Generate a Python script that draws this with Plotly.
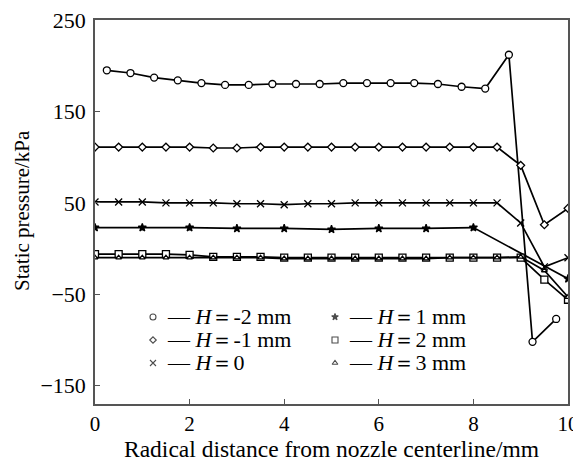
import plotly.graph_objects as go

# ---------------- data ----------------
x_m2 = [0.25, 0.75, 1.25, 1.75, 2.25, 2.75, 3.25, 3.75, 4.25, 4.75, 5.25, 5.75, 6.25, 6.75,
        7.25, 7.75, 8.25, 8.75, 9.25, 9.75]
y_m2 = [195, 192, 187, 184, 181, 179, 179, 180, 180, 180, 181, 181, 181, 181,
        180, 177, 175, 212, -102, -77]

x_half = [0, 0.5, 1, 1.5, 2, 2.5, 3, 3.5, 4, 4.5, 5, 5.5, 6, 6.5, 7, 7.5, 8, 8.5, 9, 9.5, 10]
y_m1 = [111, 111, 111, 111, 111, 110, 110, 111, 111, 111, 111, 111, 111, 111,
        111, 111, 111, 111, 91, 26, 44]
y_0 = [51, 51, 51, 50, 50, 50, 49, 49, 48, 49, 49, 50, 50, 50,
       50, 50, 50, 50, 28, -20, -10]

x_p1 = [0, 1, 2, 3, 4, 5, 6, 7, 8, 10]
y_p1 = [23, 23, 23, 22, 22, 21, 22, 22, 23, -33]

x_p2 = x_half
y_p2 = [-6, -6, -6, -6, -7, -9, -9, -9, -10, -10, -10, -10, -10, -10,
        -10, -10, -10, -10, -10, -34, -56]
y_p3 = [-10, -10, -10, -10, -10, -10, -10, -10, -11, -11, -11, -11, -11, -11,
        -11, -10, -10, -10, -9, -24, -53]

labels = ["<i>H</i>＝-2 mm", "<i>H</i>＝-1 mm", "<i>H</i>＝0",
          "<i>H</i>＝1 mm", "<i>H</i>＝2 mm", "<i>H</i>＝3 mm"]

x_ticks = [0, 2, 4, 6, 8, 10]
y_ticks = [250, 150, 50, -50, -150]
x_title = "Radical distance from nozzle centerline/mm"
y_title = "Static pressure/kPa"

# styles: (x, y, symbol, size, fill)
series = [
    (x_m2, y_m2, "circle", 7, "white"),
    (x_half, y_m1, "diamond", 6, "white"),
    (x_half, y_0, "x-thin-open", 7, "black"),
    (x_p1, y_p1, "star", 6, "black"),
    (x_p2, y_p2, "square", 7, "white"),
    (x_p2, y_p3, "triangle-up", 5, "white"),
]

FONT = "Liberation Serif"
fig = go.Figure()

for (xs, ys, sym, sz, fill), name in zip(series, labels):
    fig.add_trace(go.Scatter(
        x=xs, y=ys, mode="lines+markers", name=name, showlegend=False,
        line=dict(color="black", width=1.7),
        marker=dict(symbol=sym, size=sz, color=fill,
                    line=dict(color="black", width=1.3)),
    ))

# hand-made legend: marker, dash, text (positions are layout, in paper units)
col_marker_x = [0.1226, 0.5074]
col_text_x = [0.1480, 0.5328]
row_y = [0.2266, 0.1667, 0.1068]
leg_x, leg_y, leg_sym, leg_size, leg_fill = [], [], [], [], []
for i, ((xs, ys, sym, sz, fill), name) in enumerate(zip(series, labels)):
    c, r = divmod(i, 3)
    leg_x.append(col_marker_x[c])
    leg_y.append(row_y[r])
    leg_sym.append(sym)
    leg_size.append(max(sz - 1, 5))
    leg_fill.append(fill)
    fig.add_annotation(x=col_text_x[c], y=row_y[r], xref="paper", yref="paper",
                       xanchor="left", yanchor="middle", showarrow=False,
                       text="— " + name, font=dict(family=FONT, size=22, color="black"))

fig.add_trace(go.Scatter(
    x=leg_x, y=leg_y, xaxis="x2", yaxis="y2", mode="markers", showlegend=False,
    hoverinfo="skip",
    marker=dict(symbol=leg_sym, size=leg_size, color=leg_fill,
                line=dict(color="black", width=1.1)),
))

# axis titles as annotations for precise placement
fig.add_annotation(x=0.5, y=-0.1172, xref="paper", yref="paper", showarrow=False,
                   xanchor="center", yanchor="middle", text=x_title,
                   font=dict(family=FONT, size=23.5, color="black"))
fig.add_annotation(x=-0.1543, y=0.5026, xref="paper", yref="paper", showarrow=False,
                   xanchor="center", yanchor="middle", text=y_title, textangle=-90,
                   font=dict(family=FONT, size=21, color="black"))

fig.update_layout(
    width=581, height=464,
    margin=dict(l=87, r=21, t=12, b=68, autoexpand=False),
    paper_bgcolor="white", plot_bgcolor="white",
    font=dict(family=FONT, size=22, color="black"),
    showlegend=False,
    xaxis=dict(range=[0, 10], tickvals=x_ticks, ticks="inside", ticklen=5,
               tickcolor="#555", showline=True, linecolor="#555", linewidth=1.5,
               mirror=True, showgrid=False, zeroline=False, automargin=False,
               ticklabeloverflow="allow", tickfont=dict(size=21)),
    yaxis=dict(range=[-170, 250], tickvals=y_ticks, ticks="inside", ticklen=5,
               tickcolor="#555", showline=True, linecolor="#555", linewidth=1.5,
               mirror=True, showgrid=False, zeroline=False, automargin=False,
               ticklabelstandoff=3, ticklabeloverflow="allow"),
    xaxis2=dict(range=[0, 1], overlaying="x", visible=False, fixedrange=True),
    yaxis2=dict(range=[0, 1], overlaying="y", visible=False, fixedrange=True),
)

fig.write_html("out.html")
